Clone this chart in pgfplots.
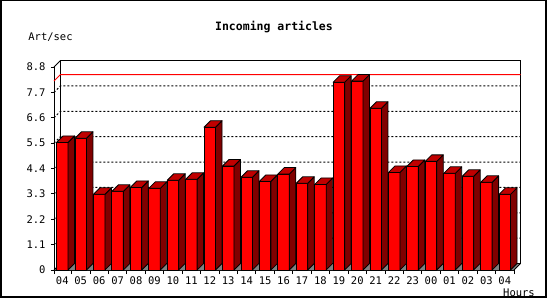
\documentclass[border=0pt]{standalone}
\usepackage{pgfplots}
\pgfplotsset{compat=1.18}
\usepackage{pgfplotstable}
\usepackage{fontspec}
\newfontfamily\mono{DejaVu Sans Mono}
\definecolor{barfront}{RGB}{255,0,0}
\definecolor{barside}{RGB}{128,0,0}
\definecolor{bartop}{RGB}{192,0,0}
\definecolor{floorgray}{RGB}{128,128,128}
\pgfdeclareplotmark{nothing}{}
\pgfplotstableread{
i v
0 5.53
1 5.71
2 3.28
3 3.41
4 3.58
5 3.54
6 3.89
7 3.93
8 6.19
9 4.51
10 4.02
11 3.84
12 4.16
13 3.76
14 3.71
15 8.14
16 8.19
17 7.01
18 4.23
19 4.49
20 4.71
21 4.19
22 4.06
23 3.80
24 3.28
}\data
\begin{document}
\begin{tikzpicture}
\useasboundingbox (0bp,0bp) rectangle (550bp,300bp);
\draw[line width=1.5bp] (0.75bp,3bp) rectangle (546bp,299.25bp);
\node[font=\mono\bfseries\fontsize{11.5bp}{13bp}\selectfont] at (274bp,273bp) {Incoming articles};
\node[font=\mono\fontsize{10.5bp}{12bp}\selectfont] at (50.5bp,263bp) {Art/sec};
\node[font=\mono\fontsize{10.5bp}{12bp}\selectfont] at (519bp,7bp) {Hours};
\begin{axis}[
  at={(54bp,30bp)}, anchor=south west,
  scale only axis, width=460bp, height=203bp,
  xmin=-0.45, xmax=24.5, ymin=0, ymax=8.8,
  clip=false,
  axis lines*=left,
  axis line style={line width=0.8bp, black},
  tick align=outside,
  xtick={0,...,24},
  xticklabels={04,05,06,07,08,09,10,11,12,13,14,15,16,17,18,19,20,21,22,23,00,01,02,03,04},
  minor xtick={-0.45,0.5,1.5,...,24.5},
  major x tick style={draw=none},
  minor x tick style={black, line width=0.8bp},
  minor tick length=4bp,
  major tick length=3bp,
  ytick={0,1.1,2.2,3.3,4.4,5.5,6.6,7.7,8.8},
  yticklabels={0,1.1,2.2,3.3,4.4,5.5,6.6,7.7,8.8},
  y tick style={black, line width=0.8bp},
  ticklabel style={font=\mono\fontsize{10.5bp}{12bp}\selectfont},
  yticklabel style={xshift=-2bp},
]
% floor
\fill[floorgray] (axis cs:-0.45,0) -- (axis cs:24.5,0) -- ++(6.5bp,6.5bp) -- ++(-460bp,0bp) -- cycle;
% back wall frame
\draw[line width=0.8bp] (axis cs:-0.45,8.8) -- ++(6.5bp,6.5bp) -- ++(460bp,0bp) -- ++(0bp,-203bp) -- ++(-6.5bp,-6.5bp);
\draw[line width=0.8bp] (axis cs:-0.45,0) -- ++(6.5bp,6.5bp) -- ++(0bp,203bp);
\draw[line width=0.8bp] (axis cs:-0.45,0) ++(6.5bp,6.5bp) -- ++(460bp,0bp);
% grid
\pgfplotsinvokeforeach{1.1,2.2,3.3,4.4,5.5,6.6,7.7}{
  \draw[black, line width=1bp, dash pattern=on 2bp off 2bp] (axis cs:-0.45,#1) -- ++(6.5bp,6.5bp) -- ++(460bp,0bp);
}
% maximum line
\draw[red, line width=0.9bp] (axis cs:-0.45,8.19) -- ++(6.5bp,6.5bp) -- ++(460bp,0bp);
% bars: front faces
\addplot[ybar, bar width=11.5bp, bar shift=0pt, fill=barfront, draw=black, line width=0.8bp]
  table[x=i,y=v] {\data};
% bars: side and top faces
\addplot[scatter, only marks, mark=nothing,
  visualization depends on={rawy \as \rawv},
  scatter/@pre marker code/.code={%
    \pgfmathsetmacro\hh{\rawv*203/8.8}%
    \filldraw[fill=barside, draw=black, line width=0.8bp, line join=round]
      (5.75bp,0bp) -- (12.25bp,6.5bp) -- (12.25bp,6.5bp-\hh bp) -- (5.75bp,-\hh bp) -- cycle;
    \filldraw[fill=bartop, draw=black, line width=0.8bp, line join=round]
      (-5.75bp,0bp) -- (0.75bp,6.5bp) -- (12.25bp,6.5bp) -- (5.75bp,0bp) -- cycle;
  },
  scatter/@post marker code/.code={}
] table[x=i,y=v] {\data};
\end{axis}
\end{tikzpicture}
\end{document}
